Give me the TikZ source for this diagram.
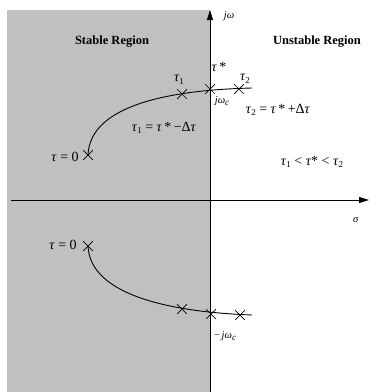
\documentclass[tikz,border=0pt]{standalone}
\usepackage{fontspec}
\setmainfont{Liberation Serif}
\usetikzlibrary{arrows.meta,shapes.misc}
\definecolor{stab}{HTML}{C0C0C0}
\newcommand{\tsb}[1]{\raisebox{-0.4ex}{\fontsize{9}{10}\selectfont #1}}
\newcommand{\tu}{\textit{τ}}
\tikzset{
 xmark/.style={cross out,draw,minimum size=9pt,inner sep=0pt,line width=0.7pt},
 axis/.style={line width=0.9pt,-{Triangle[length=10pt,width=6pt]}},
 locus/.style={line width=0.9pt},
 lbl/.style={font=\fontsize{14}{16}\selectfont,inner sep=0pt},
 small/.style={font=\fontsize{10.5}{12}\selectfont,inner sep=0pt},
 region/.style={font=\fontsize{12.5}{14}\selectfont\bfseries,inner sep=0pt},
}
\begin{document}
\begin{tikzpicture}[x=1pt,y=-1pt]
\useasboundingbox (0,0) rectangle (369,392);
\fill[stab] (7,10) rectangle (210,392);
% axes
\coordinate (ytop) at (210,10);
\coordinate (ybot) at (210,392);
\coordinate (xl) at (11,200);
\coordinate (xr) at (369,200);
\draw[axis] (ybot) -- (ytop);
\draw[axis] (xl) -- (xr);
% crosses upper
\node[xmark] (u0) at (88,155) {};
\node[xmark] (u1) at (182,94) {};
\node[xmark] (uc) at (210,89) {};
\node[xmark] (u2) at (239,89) {};
\coordinate (ue) at (252,88);
\draw[locus] (u0.center) .. controls (90,105) and (170,90) .. (ue);
% crosses lower
\node[xmark] (l0) at (88,246) {};
\node[xmark] (l1) at (182,309) {};
\node[xmark] (lc) at (211,314) {};
\node[xmark] (l2) at (240,315) {};
\coordinate (le) at (252,315);
\draw[locus] (l0.center) .. controls (90,295) and (170,312) .. (le);
% labels
\node[small] (jw) at (229,16) {\textit{jω}};
\node[region] (sr) at (112,42) {Stable Region};
\node[region] (ur) at (317,42) {Unstable Region};
\node[lbl] (ts) at (219,67) {\tu\,*};
\node[lbl] (t1) at (179,80) {\tu\tsb{1}};
\node[lbl] (t2) at (245,79) {\tu\tsb{2}};
\node[small] (jwc) at (222,101) {\textit{jω}\tsb{\textit{c}}};
\node[lbl] (eq2) at (278,110) {\tu\tsb{2} = \tu\,*\,+Δ\tu};
\node[lbl] (eq1) at (164,128) {\tu\tsb{1} = \tu\,*\,−Δ\tu};
\node[lbl] (z1) at (65,157) {\tu\ = 0};
\node[lbl] (ineq) at (312,162) {\tu\tsb{1} < \tu* < \tu\tsb{2}};
\node[small] (sg) at (356,220) {\textit{σ}};
\node[lbl] (z2) at (63,245) {\tu\ = 0};
\node[small] (mjwc) at (225,336) {−\,\textit{jω}\tsb{\textit{c}}};
\end{tikzpicture}
\end{document}
